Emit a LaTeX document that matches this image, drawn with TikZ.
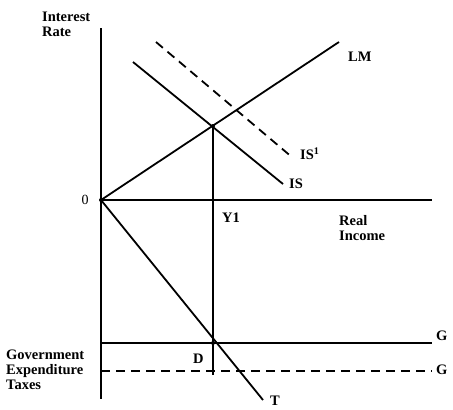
\documentclass[tikz,border=0pt]{standalone}
\usepackage{fontspec}
\setmainfont{Liberation Serif}
\begin{document}
\begin{tikzpicture}[x=1pt,y=-1pt,
  ln/.style={line width=1.8pt,line cap=butt},
  dsh/.style={line width=1.8pt,dash pattern=on 9pt off 6pt},
  lbl/.style={font=\fontsize{14.5}{15}\selectfont\bfseries,inner sep=0pt},
  dot/.style={circle,fill=black,inner sep=0pt,minimum size=4pt}]
\useasboundingbox (0,0) rectangle (453,410);
% points
\coordinate (ytop) at (101,28);
\coordinate (ybot) at (101,399);
\coordinate (O) at (101,200);
\coordinate (xend) at (432,200);
\coordinate (LMend) at (339,42);
\coordinate (ISs) at (133,62);
\coordinate (ISe) at (283,184);
\coordinate (IS1s) at (156,42);
\coordinate (IS1e) at (293,158);
\coordinate (E) at (213,126);
\coordinate (Eb) at (213,375);
\coordinate (Gs) at (101,343);
\coordinate (Ge) at (432,343);
\coordinate (Gds) at (101,371);
\coordinate (Gde) at (432,371);
\coordinate (Tend) at (263,400);
\coordinate (D) at (213,343);
% axes
\draw[ln] (ytop) -- (ybot);
\draw[ln] (O) -- (xend);
% curves
\draw[ln] (O) -- (LMend);
\draw[ln] (ISs) -- (ISe);
\draw[dsh] (IS1s) -- (IS1e);
\draw[ln] (E) -- (Eb);
\draw[ln] (Gs) -- (Ge);
\draw[dsh] (Gds) -- (Gde);
\draw[ln] (O) -- (Tend);
\node[dot] at (O) {};
\node[dot] at (E) {};
\node[dot] at (D) {};
% labels
\node[lbl,anchor=west,align=left] (ir) at (42,24) {Interest\\Rate};
\node[lbl,anchor=west] (lm) at (348,57) {LM};
\node[lbl,anchor=west] (is1) at (300,154) {IS$^{\mathbf 1}$};
\node[lbl,anchor=west] (is) at (289,184) {IS};
\node[font=\fontsize{14}{14}\selectfont,inner sep=0pt] (zero) at (85,200) {0};
\node[lbl,anchor=west] (y1) at (222,218) {Y1};
\node[lbl,anchor=west,align=left] (ri) at (339,228) {Real\\Income};
\node[lbl,anchor=west] (g1) at (436,336) {G};
\node[lbl,anchor=west] (g2) at (436,370) {G};
\node[lbl,anchor=west] (d) at (193,359) {D};
\node[lbl,anchor=west,align=left] (ge) at (6,370) {Government\\Expenditure\\Taxes};
\node[lbl,anchor=north west] (t) at (270,396) {T};
\end{tikzpicture}
\end{document}
